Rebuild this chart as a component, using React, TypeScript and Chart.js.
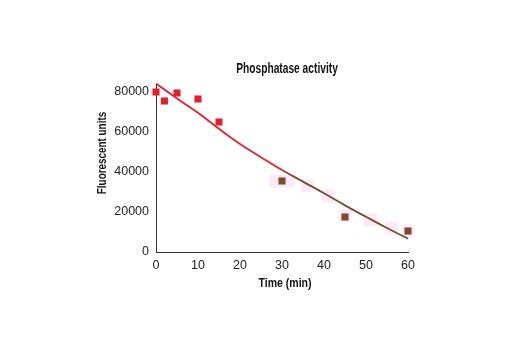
import React, { useEffect, useRef } from "react";
import { Chart, registerables } from "chart.js";

Chart.register(...registerables);

const earlyTimes = [0, 2, 5, 10, 15];
const earlyValues = [80000, 75500, 79500, 76500, 65000];
const lateTimes = [30, 45, 60];
const lateValues = [35500, 17500, 10500];
const fitTimes = [0, 5, 10, 15, 20, 25, 30, 35, 40, 45, 50, 55, 60];
const fitValues = [84200, 76800, 69600, 61600, 54000, 47400, 41000, 35200, 29400, 23300, 17600, 12000, 6700];
const haloTimes = [28.5, 31.5, 36, 41, 45, 51, 56, 60];
const haloValues = [35500, 35500, 33000, 28000, 18000, 16000, 12000, 10500];
const yTicks = [0, 20000, 40000, 60000, 80000];
const xTicks = [0, 10, 20, 30, 40, 50, 60];
const chartTitle = "Phosphatase activity";
const yTitle = "Fluorescent units";
const xTitle = "Time (min)";

const FONT = "'Liberation Sans', Arial, sans-serif";
const RED = "#e3202e";
const BROWN = "#7b4b2c";

function drawNarrow(ctx: CanvasRenderingContext2D, text: string, x: number, y: number, size: number, sx: number, rot: number) {
  ctx.save();
  ctx.translate(x, y);
  ctx.rotate(rot);
  ctx.scale(sx, 1);
  ctx.font = `bold ${size}px ${FONT}`;
  ctx.fillStyle = "#111";
  ctx.textAlign = "center";
  ctx.textBaseline = "middle";
  ctx.fillText(text, 0, 0);
  ctx.restore();
}

const titlePlugin = {
  id: "narrowTitles",
  afterDraw(chart: any) {
    const { ctx, chartArea } = chart;
    drawNarrow(ctx, chartTitle, (chartArea.left + chartArea.right) / 2 + 5, 69, 14, 0.73, 0);
    drawNarrow(ctx, yTitle, 102, 153, 13, 0.76, -Math.PI / 2);
    drawNarrow(ctx, xTitle, (chartArea.left + chartArea.right) / 2 + 3, 283, 13, 0.81, 0);
  },
};

export default function App() {
  const ref = useRef<HTMLCanvasElement>(null);
  useEffect(() => {
    document.body.style.margin = "0";
    const ctx = ref.current!;
    const chart = new Chart(ctx, {
      type: "scatter",
      data: {
        datasets: [
          {
            data: fitTimes.map((t, i) => ({ x: t, y: fitValues[i] })),
            showLine: true,
            borderWidth: 1.8,
            pointRadius: 0,
            tension: 0.4,
            borderColor: RED,
            segment: {
              borderColor: (c: any) => (c.p0.parsed.x >= 30 ? BROWN : RED),
            },
            clip: false,
            order: 1,
          },
          {
            data: earlyTimes.map((t, i) => ({ x: t, y: earlyValues[i] })),
            pointStyle: "rect",
            pointRadius: 5,
            backgroundColor: RED,
            borderColor: RED,
            borderWidth: 0,
            clip: false,
            order: 0,
          },
          {
            data: lateTimes.map((t, i) => ({ x: t, y: lateValues[i] })),
            pointStyle: "rect",
            pointRadius: 5,
            backgroundColor: BROWN,
            borderColor: BROWN,
            borderWidth: 0,
            clip: false,
            order: 0,
          },
          {
            data: haloTimes.map((t, i) => ({ x: t, y: haloValues[i] })),
            pointStyle: "rect",
            pointRadius: 9,
            backgroundColor: "rgba(252, 224, 243, 0.7)",
            borderWidth: 0,
            clip: false,
            order: 2,
          },
        ],
      },
      options: {
        animation: false,
        responsive: false,
        events: [],
        layout: { padding: { top: 84, left: 90, right: 112, bottom: 58 } },
        plugins: {
          legend: { display: false },
          tooltip: { enabled: false },
          title: { display: false },
        },
        scales: {
          x: {
            type: "linear",
            min: 0,
            max: 60,
            afterBuildTicks: (s: any) => {
              s.ticks = xTicks.map((v) => ({ value: v }));
            },
            afterFit: (s: any) => {
              s.height = 40;
            },
            grid: { display: false, drawTicks: true, tickLength: 5, tickColor: "#333" },
            border: { color: "#333", width: 1 },
            ticks: {
              color: "#222",
              font: { family: FONT, size: 12.5 },
              padding: 1,
              maxRotation: 0,
              callback: (v: any) => String(v),
            },
            title: { display: false },
          },
          y: {
            type: "linear",
            min: 0,
            max: 84000,
            afterBuildTicks: (s: any) => {
              s.ticks = yTicks.map((v) => ({ value: v }));
            },
            afterFit: (s: any) => {
              s.width = 66;
            },
            grid: { display: false, drawTicks: true, tickLength: 5, tickColor: "#333" },
            border: { color: "#333", width: 1 },
            ticks: {
              color: "#222",
              font: { family: FONT, size: 12.5 },
              padding: 2,
              callback: (v: any) => String(v),
            },
            title: { display: false },
          },
        },
      },
      plugins: [titlePlugin],
    } as any);
    return () => chart.destroy();
  }, []);
  return (
    <div style={{ width: 520, height: 350, background: "#fff" }}>
      <canvas ref={ref} width={520} height={350} style={{ display: "block" }} />
    </div>
  );
}
